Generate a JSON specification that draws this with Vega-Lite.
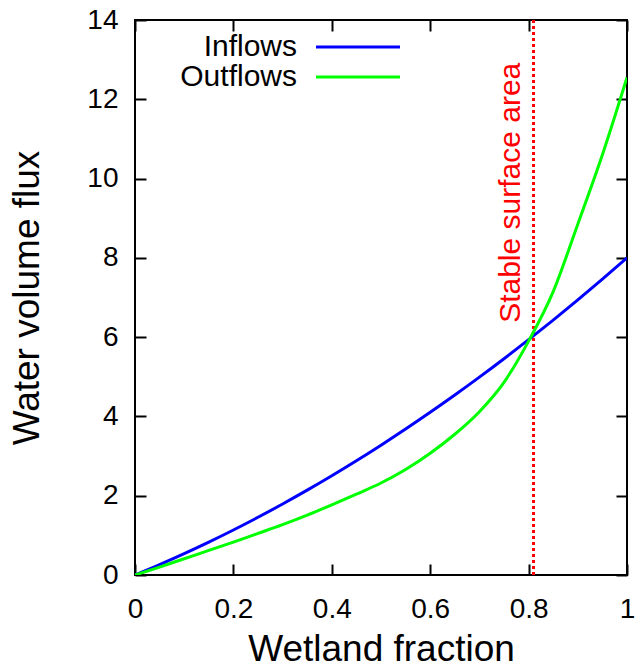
{
  "$schema": "https://vega.github.io/schema/vega-lite/v6.json",
  "width": 492,
  "height": 555,
  "autosize": {"type": "none"},
  "padding": {"left": 135, "top": 20, "right": 12, "bottom": 92},
  "background": "white",
  "config": {
    "font": "Liberation Sans",
    "view": {"stroke": "black", "strokeWidth": 2},
    "axis": {
      "domain": false,
      "grid": false,
      "tickSize": -11,
      "tickWidth": 2,
      "tickColor": "black",
      "labelColor": "black",
      "labelFontSize": 28,
      "labelFont": "Liberation Sans",
      "labelFlush": false,
      "labelOverlap": false,
      "titleFont": "Liberation Sans",
      "titleFontSize": 37,
      "titleFontWeight": "normal",
      "titleColor": "black"
    }
  },
  "datasets": {
    "curves": [
      {"fraction": 0.0, "series": "Inflows", "flux": 0.0},
      {"fraction": 0.05, "series": "Inflows", "flux": 0.262},
      {"fraction": 0.1, "series": "Inflows", "flux": 0.539},
      {"fraction": 0.15, "series": "Inflows", "flux": 0.83},
      {"fraction": 0.2, "series": "Inflows", "flux": 1.136},
      {"fraction": 0.25, "series": "Inflows", "flux": 1.456},
      {"fraction": 0.3, "series": "Inflows", "flux": 1.791},
      {"fraction": 0.35, "series": "Inflows", "flux": 2.14},
      {"fraction": 0.4, "series": "Inflows", "flux": 2.504},
      {"fraction": 0.45, "series": "Inflows", "flux": 2.882},
      {"fraction": 0.5, "series": "Inflows", "flux": 3.275},
      {"fraction": 0.55, "series": "Inflows", "flux": 3.682},
      {"fraction": 0.6, "series": "Inflows", "flux": 4.104},
      {"fraction": 0.65, "series": "Inflows", "flux": 4.54},
      {"fraction": 0.7, "series": "Inflows", "flux": 4.991},
      {"fraction": 0.75, "series": "Inflows", "flux": 5.456},
      {"fraction": 0.8, "series": "Inflows", "flux": 5.936},
      {"fraction": 0.85, "series": "Inflows", "flux": 6.43},
      {"fraction": 0.9, "series": "Inflows", "flux": 6.939},
      {"fraction": 0.95, "series": "Inflows", "flux": 7.462},
      {"fraction": 1.0, "series": "Inflows", "flux": 8.0},
      {"fraction": 0.0, "series": "Outflows", "flux": 0.0},
      {"fraction": 0.05, "series": "Outflows", "flux": 0.2},
      {"fraction": 0.1, "series": "Outflows", "flux": 0.41},
      {"fraction": 0.15, "series": "Outflows", "flux": 0.62},
      {"fraction": 0.2, "series": "Outflows", "flux": 0.83},
      {"fraction": 0.25, "series": "Outflows", "flux": 1.05},
      {"fraction": 0.3, "series": "Outflows", "flux": 1.27},
      {"fraction": 0.35, "series": "Outflows", "flux": 1.51},
      {"fraction": 0.4, "series": "Outflows", "flux": 1.77},
      {"fraction": 0.45, "series": "Outflows", "flux": 2.04},
      {"fraction": 0.5, "series": "Outflows", "flux": 2.32},
      {"fraction": 0.55, "series": "Outflows", "flux": 2.66},
      {"fraction": 0.6, "series": "Outflows", "flux": 3.07},
      {"fraction": 0.65, "series": "Outflows", "flux": 3.55},
      {"fraction": 0.7, "series": "Outflows", "flux": 4.12},
      {"fraction": 0.75, "series": "Outflows", "flux": 4.86},
      {"fraction": 0.8, "series": "Outflows", "flux": 5.9},
      {"fraction": 0.85, "series": "Outflows", "flux": 7.15},
      {"fraction": 0.9, "series": "Outflows", "flux": 8.85},
      {"fraction": 0.95, "series": "Outflows", "flux": 10.6},
      {"fraction": 1.0, "series": "Outflows", "flux": 12.55}
    ],
    "stable": [{"fraction": 0.81, "label": "Stable surface area"}]
  },
  "layer": [
    {
      "data": {"name": "stable"},
      "mark": {"type": "rule", "color": "#ff0000", "strokeWidth": 3, "strokeDash": [3, 3]},
      "encoding": {
        "x": {"field": "fraction", "type": "quantitative", "scale": {"domain": [0, 1], "nice": false, "zero": false}, "axis": null}
      }
    },
    {
      "data": {"name": "curves"},
      "mark": {"type": "line", "strokeWidth": 3, "clip": true, "interpolate": "monotone"},
      "encoding": {
        "x": {
          "field": "fraction",
          "type": "quantitative",
          "scale": {"domain": [0, 1], "nice": false, "zero": false},
          "axis": {"orient": "bottom", "values": [0, 0.2, 0.4, 0.6, 0.8, 1], "format": "~g", "labelPadding": 31, "title": "Wetland fraction", "titlePadding": 8}
        },
        "y": {
          "field": "flux",
          "type": "quantitative",
          "scale": {"domain": [0, 14], "nice": false, "zero": false},
          "axis": {"orient": "left", "values": [0, 2, 4, 6, 8, 10, 12, 14], "labelPadding": 28, "title": "Water volume flux", "titlePadding": 40}
        },
        "color": {
          "field": "series",
          "type": "nominal",
          "scale": {"domain": ["Inflows", "Outflows"], "range": ["#0000ff", "#00ff00"]},
          "legend": {
            "orient": "none",
            "legendX": 181,
            "legendY": 12,
            "title": null,
            "symbolType": "stroke",
            "symbolSize": 7056,
            "symbolStrokeWidth": 3,
            "labelFontSize": 30,
            "labelColor": "black",
            "labelAlign": "right",
            "labelLimit": 0,
            "rowPadding": 0,
            "padding": 0,
            "encode": {
              "symbols": {"update": {"x": {"value": 42}, "y": {"value": 15}}},
              "labels": {"update": {"x": {"value": -19}, "y": {"value": 15}, "align": {"value": "right"}, "baseline": {"value": "middle"}}}
            }
          }
        }
      }
    },
    {
      "data": {"name": "stable"},
      "mark": {"type": "text", "color": "#ff0000", "fontSize": 30, "angle": 270, "align": "left", "baseline": "alphabetic", "dy": -14},
      "encoding": {
        "x": {
          "field": "fraction",
          "type": "quantitative",
          "scale": {"domain": [0, 1], "nice": false, "zero": false},
          "axis": {"orient": "top", "values": [0, 0.2, 0.4, 0.6, 0.8, 1], "labels": false, "title": null}
        },
        "y": {
          "datum": 6.36,
          "type": "quantitative",
          "scale": {"domain": [0, 14], "nice": false, "zero": false},
          "axis": {"orient": "right", "values": [0, 2, 4, 6, 8, 10, 12, 14], "labels": false, "title": null}
        },
        "text": {"field": "label"}
      }
    }
  ],
  "resolve": {"axis": {"x": "independent", "y": "independent"}}
}
